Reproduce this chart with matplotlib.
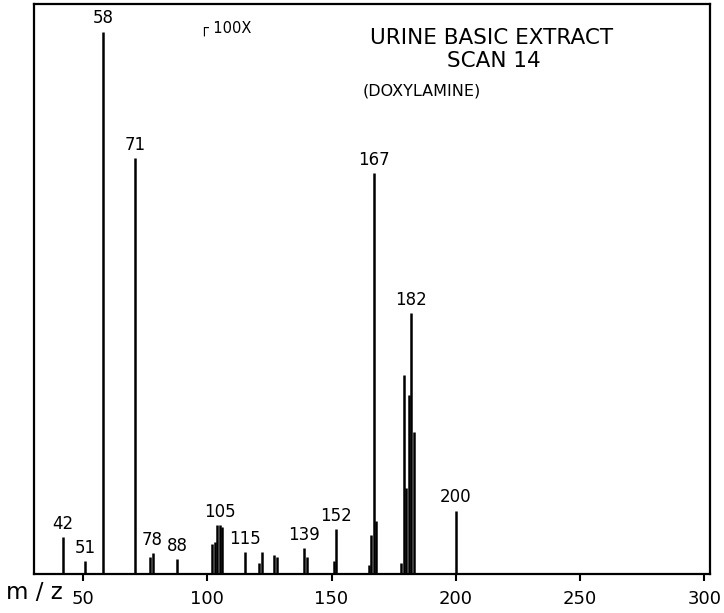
import matplotlib as mpl
mpl.use('Agg')
from matplotlib import pyplot as plt

# peak list (relative intensity, base peak 58 = 100)
mz = [42, 51, 58, 71, 77, 78, 88,
      102, 103, 104, 105, 106, 115, 121, 122, 127, 128,
      139, 140, 151, 152, 165, 166, 167, 168,
      178, 179, 180, 181, 182, 183, 200]
intensity = [6.7, 2.3, 100.0, 76.7, 3.0, 3.8, 2.7,
             5.5, 5.8, 8.9, 9.0, 8.5, 3.9, 2.0, 3.9, 3.4, 3.0,
             4.7, 3.0, 2.4, 8.2, 1.5, 7.1, 73.9, 9.6,
             2.0, 36.7, 15.7, 33.0, 48.1, 26.2, 11.6]

# peaks that carry a mass label
labelled = [42, 51, 58, 71, 78, 88, 105, 115, 139, 152, 167, 182, 200]

xticks = [50, 100, 150, 200, 250, 300]

plt.rcParams['font.family'] = 'DejaVu Sans'

fig = plt.figure(figsize=(7.24, 6.13), dpi=100)
ax = fig.add_axes([0.047, 0.0644, 0.934, 0.9283])

ax.vlines(mz, 0, intensity, colors='black', linewidth=1.8)

for m in labelled:
    h = intensity[mz.index(m)]
    ax.annotate(str(m), xy=(m, h), xytext=(0, 3), textcoords='offset points',
                ha='center', va='bottom', fontsize=12)

ax.set_xlim(30.3, 302.4)
ax.set_ylim(0, 105)
ax.set_xticks(xticks)
ax.set_xticklabels([str(t) for t in xticks], fontsize=13)
ax.set_yticks([])
ax.tick_params(axis='x', direction='out', length=5, width=1.5, pad=7)
for s in ax.spines.values():
    s.set_linewidth(1.6)

ax.text(214.5, 98.9, 'URINE BASIC EXTRACT', ha='center', va='center', fontsize=15.5)
ax.text(215.5, 94.6, 'SCAN 14', ha='center', va='center', fontsize=15.5)
ax.text(162.7, 89.1, '(DOXYLAMINE)', ha='left', va='center', fontsize=11.5)
ax.text(97.1, 100.6, '\u250c 100X', ha='left', va='center', fontsize=10.5)

fig.text(6 / 724, 1 - 599 / 613, 'm / z', ha='left', va='baseline', fontsize=16.5)

plt.savefig('out.png', dpi=100)
plt.close()
